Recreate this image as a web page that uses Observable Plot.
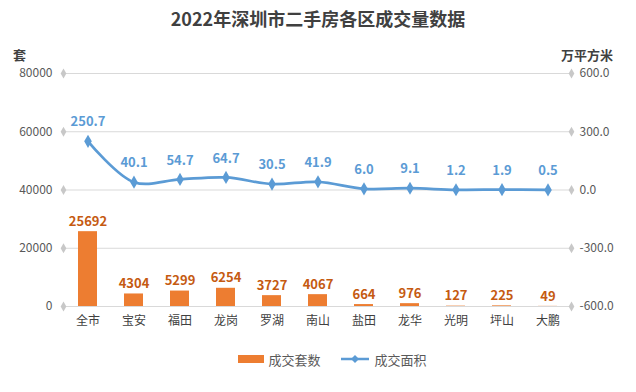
<!DOCTYPE html>
<html>
<head>
<meta charset="utf-8">
<script src="https://cdn.jsdelivr.net/npm/d3@7"></script>
<script src="https://cdn.jsdelivr.net/npm/@observablehq/plot@0.6"></script>
<style>
  html, body { margin: 0; padding: 0; background: #fff; }
  #wrap { position: relative; width: 636px; height: 392px; overflow: hidden;
          font-family: "Noto Sans CJK SC", "Noto Sans", sans-serif; }
  #title { position: absolute; left: 0; width: 636px; top: 5px; text-align: center;
           font-size: 18px; font-weight: bold; color: #404040; }
  .unit { position: absolute; top: 47px; font-size: 13px; line-height: 15px; font-weight: bold; color: #404040; }
  #legend { position: absolute; top: 349px; left: 14px; width: 636px; text-align: center;
            font-size: 13px; color: #595959; }
  #legend span.item { display: inline-flex; align-items: center; margin: 0 9px; }
  #chart { position: absolute; left: 0; top: 0; }
</style>
</head>
<body>
<div id="wrap">
  <div id="chart"></div>
  <div id="title">2022年深圳市二手房各区成交量数据</div>
  <div class="unit" style="left:13px;">套</div>
  <div class="unit" style="left:561px;">万平方米</div>
  <div id="legend">
    <span class="item"><svg width="26" height="10" style="margin-right:5px"><rect x="0" y="1" width="26" height="8" fill="#ed7d31"/></svg>成交套数</span>
    <span class="item"><svg width="28" height="10" style="margin-right:5px"><line x1="0" y1="5" x2="28" y2="5" stroke="#5b9bd5" stroke-width="2.5"/><path d="M14,1 L18,5 L14,9 L10,5 Z" fill="#5b9bd5"/></svg>成交面积</span>
  </div>
</div>
<script>
const categories = ["全市", "宝安", "福田", "龙岗", "罗湖", "南山", "盐田", "龙华", "光明", "坪山", "大鹏"];
const units = [25692, 4304, 5299, 6254, 3727, 4067, 664, 976, 127, 225, 49];
const areas = [250.7, 40.1, 54.7, 64.7, 30.5, 41.9, 6.0, 9.1, 1.2, 1.9, 0.5];
const leftTicks = [0, 20000, 40000, 60000, 80000];
const rightTicks = [-600, -300, 0, 300, 600];

const leftMax = 80000;
const rMin = rightTicks[0], rMax = rightTicks[rightTicks.length - 1];
const toLeft = v => (v - rMin) / (rMax - rMin) * leftMax;
const toRight = v => rMin + v / leftMax * (rMax - rMin);

const data = categories.map((c, i) => ({cat: c, units: units[i], area: areas[i]}));

const chart = Plot.plot({
  width: 636,
  height: 392,
  marginTop: 73,
  marginBottom: 86,
  marginLeft: 63,
  marginRight: 65,
  style: {fontFamily: '"Noto Sans CJK SC", "Noto Sans", sans-serif', fontSize: "12px", background: "transparent", overflow: "visible"},
  x: {domain: categories, paddingInner: 0.59, paddingOuter: 0.295, axis: null},
  y: {domain: [0, leftMax], axis: null},
  marks: [
    Plot.ruleY(leftTicks, {stroke: "#d9d9d9", strokeWidth: 1}),
    Plot.dot(leftTicks, {y: d => d, frameAnchor: "left", symbol: "diamond", r: 3, fill: "#c8c8c8"}),
    Plot.dot(leftTicks, {y: d => d, frameAnchor: "right", symbol: "diamond", r: 3, fill: "#c8c8c8"}),
    Plot.axisY({anchor: "left", ticks: leftTicks, tickFormat: d => String(d), tickSize: 0, tickPadding: 11, label: null, fill: "#595959", fontSize: 12}),
    Plot.axisY({anchor: "right", ticks: rightTicks.map(toLeft), tickFormat: d => toRight(d).toFixed(1), tickSize: 0, tickPadding: 8, label: null, fill: "#595959", fontSize: 12}),
    Plot.axisX({tickSize: 0, tickPadding: 10, label: null, fill: "#404040", fontSize: 12}),
    Plot.barY(data, {x: "cat", y: "units", fill: "#ed7d31"}),
    Plot.text(data, {x: "cat", y: "units", text: d => String(d.units), dy: -10, fill: "#c55a11", fontWeight: "bold", fontSize: 13}),
    Plot.line(data, {x: "cat", y: d => toLeft(d.area), stroke: "#5b9bd5", strokeWidth: 2.75, curve: "catmull-rom"}),
    Plot.dot(data, {x: "cat", y: d => toLeft(d.area), symbol: "diamond", r: 4, fill: "#5b9bd5"}),
    Plot.text(data, {x: "cat", y: d => toLeft(d.area), text: d => d.area.toFixed(1), dy: -19, fill: "#5b9bd5", fontWeight: "bold", fontSize: 13})
  ]
});
document.getElementById("chart").appendChild(chart);
</script>
</body>
</html>
